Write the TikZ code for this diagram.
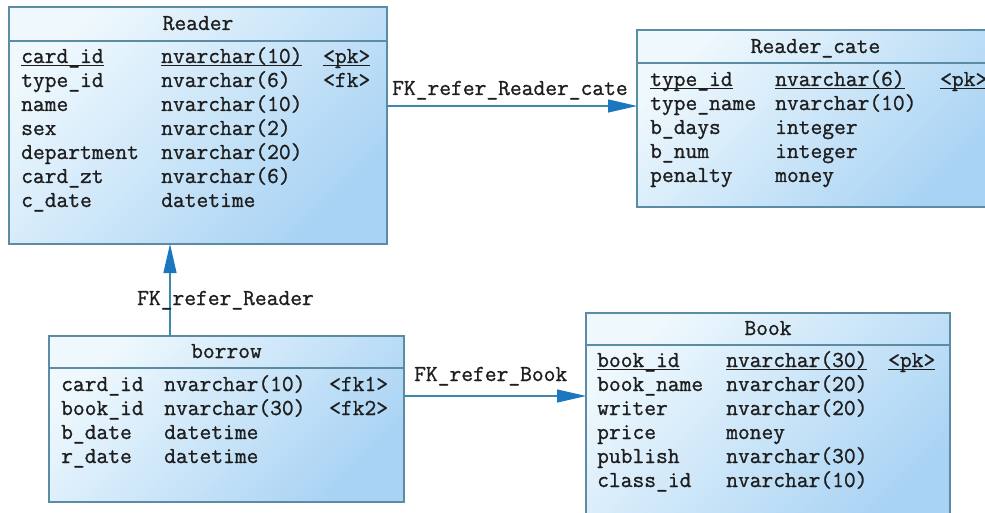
\documentclass[tikz,border=0pt]{standalone}
\usepackage{fontspec}
\newfontfamily\codefont[FakeBold=1]{Latin Modern Mono}
\usetikzlibrary{arrows.meta,calc}
\definecolor{bordc}{HTML}{5B8CA3}
\definecolor{fillA}{HTML}{EEF8FD}
\definecolor{fillB}{HTML}{A9D3F4}
\definecolor{linec}{HTML}{3C89AE}
\definecolor{arrc}{HTML}{1B78BE}
\definecolor{txtc}{HTML}{1E1E1E}
\newcommand\myul[1]{\setbox0\hbox{#1}\rlap{\rule[-2.8pt]{\wd0}{1pt}}\box0}
\begin{document}
\begin{tikzpicture}[x=1pt,y=-1pt,
  entity/.style={draw=bordc, line width=1.2pt, rectangle, inner sep=0pt, outer sep=0pt,
    anchor=north west, top color=fillA, bottom color=fillB, shading angle=45},
  txt/.style={anchor=base west, inner sep=0pt, font=\codefont\fontsize{22.86}{24}\selectfont, text=txtc},
  ttl/.style={anchor=base, inner sep=0pt, font=\codefont\fontsize{22.86}{24}\selectfont, text=txtc},
  sepline/.style={draw=bordc, line width=1.2pt},
  fk/.style={draw=linec, line width=1.2pt, -{Triangle[length=29pt,width=13pt,color=arrc]}}
]
\clip (0,0) rectangle (985,513);
\fill[white] (0,0) rectangle (985,513);

% entity boxes
\node[entity, minimum width=378pt, minimum height=237pt] (reader) at (9,7) {};
\node[entity, minimum width=358pt, minimum height=177pt] (rcate) at (637,30) {};
\node[entity, minimum width=355pt, minimum height=166pt] (borrow) at (49,336) {};
\node[entity, minimum width=364pt, minimum height=215pt] (book) at (586,313) {};

% header separators
\draw[sepline] ($(reader.north west)+(0,34)$) -- ($(reader.north east)+(0,34)$);
\draw[sepline] ($(rcate.north west)+(0,33)$) -- ($(rcate.north east)+(0,33)$);
\draw[sepline] ($(borrow.north west)+(0,32)$) -- ($(borrow.north east)+(0,32)$);
\draw[sepline] ($(book.north west)+(0,32)$) -- ($(book.north east)+(0,32)$);

% titles
\node[ttl] (readerT) at (198,30) {Reader};
\node[ttl] (rcateT) at (815.5,53) {Reader\_cate};
\node[ttl] (borrowT) at (226.5,358) {borrow};
\node[ttl] (bookT) at (768,335) {Book};

% Reader rows
\node[txt] (r1a) at (21,63) {\myul{card\_id}};
\node[txt] (r1b) at (161,63) {\myul{nvarchar(10)}};
\node[txt] (r1c) at (323,63) {\myul{<pk>}};
\foreach \a/\b/\c [count=\i from 2] in {type\_id/nvarchar(6)/<fk>, name/nvarchar(10)/{}, sex/nvarchar(2)/{}, department/nvarchar(20)/{}, card\_zt/nvarchar(6)/{}, c\_date/datetime/{}}{
  \node[txt] (r\i-a) at (21,{63+24*(\i-1)}) {\a};
  \node[txt] (r\i-b) at (161,{63+24*(\i-1)}) {\b};
  \node[txt] (r\i-c) at (323,{63+24*(\i-1)}) {\c};
}

% Reader_cate rows
\node[txt] (c1a) at (650,86) {\myul{type\_id}};
\node[txt] (c1b) at (775,86) {\myul{nvarchar(6)}};
\node[txt] (c1c) at (940,86) {\myul{<pk>}};
\foreach \a/\b [count=\i from 2] in {type\_name/nvarchar(10), b\_days/integer, b\_num/integer, penalty/money}{
  \node[txt] (c\i-a) at (650,{86+24*(\i-1)}) {\a};
  \node[txt] (c\i-b) at (775,{86+24*(\i-1)}) {\b};
}

% borrow rows
\foreach \a/\b/\c [count=\i] in {card\_id/nvarchar(10)/<fk1>, book\_id/nvarchar(30)/<fk2>, b\_date/datetime/{}, r\_date/datetime/{}}{
  \node[txt] (w\i-a) at (61,{391+24*(\i-1)}) {\a};
  \node[txt] (w\i-b) at (164,{391+24*(\i-1)}) {\b};
  \node[txt] (w\i-c) at (329,{391+24*(\i-1)}) {\c};
}

% Book rows
\node[txt] (b1a) at (597,367) {\myul{book\_id}};
\node[txt] (b1b) at (726,367) {\myul{nvarchar(30)}};
\node[txt] (b1c) at (888,367) {\myul{<pk>}};
\foreach \a/\b [count=\i from 2] in {book\_name/nvarchar(20), writer/nvarchar(20), price/money, publish/nvarchar(30), class\_id/nvarchar(10)}{
  \node[txt] (b\i-a) at (597,{367+24*(\i-1)}) {\a};
  \node[txt] (b\i-b) at (726,{367+24*(\i-1)}) {\b};
}

% connectors
\coordinate (y1) at (0,106);
\coordinate (x2) at (170,0);
\coordinate (y3) at (0,396);
\draw[fk] (reader.east |- y1) -- (rcate.west |- y1);
\draw[fk] (borrow.north -| x2) -- (reader.south -| x2);
\draw[fk] (borrow.east |- y3) -- (book.west |- y3);

% connector labels
\node[txt] (l1) at (392,95) {FK\_refer\_Reader\_cate};
\node[txt] (l2) at (137,305) {FK\_refer\_Reader};
\node[txt] (l3) at (414,381) {FK\_refer\_Book};
\end{tikzpicture}
\end{document}
